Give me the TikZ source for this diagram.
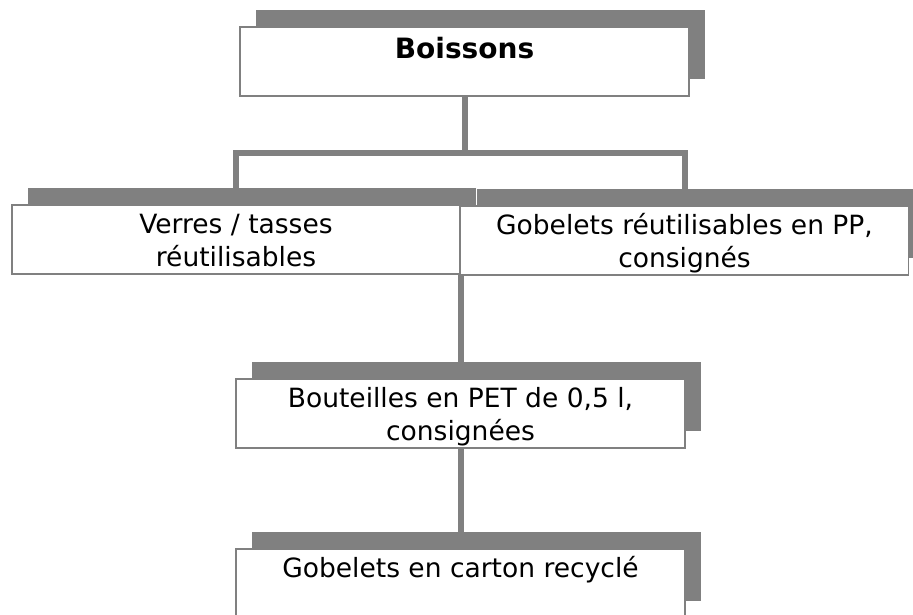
\documentclass[tikz,border=0pt]{standalone}
\usepackage{fontspec}
\setmainfont{DejaVu Sans}
\usetikzlibrary{shadows, backgrounds}

\begin{document}
\begin{tikzpicture}[
  x=1pt, y=-1pt,
  box/.style={rectangle, draw=gray, line width=1.2pt, fill=white, inner sep=0pt,
    minimum width=449pt, minimum height=69pt, align=center,
    text height=28pt, text depth=41pt,
    font=\fontsize{26.5}{33}\selectfont,
    general shadow={fill=gray, shadow xshift=16pt, shadow yshift=17pt}},
  twoline/.style={text height=61pt, text depth=8pt},
  link/.style={draw=gray, line width=6pt}
]
\useasboundingbox (0,0) rectangle (913,614);

% Top
\node[box, text height=31pt, text depth=38pt, font=\fontsize{28}{33}\selectfont\bfseries] (boissons) at (464.5,61.5) {Boissons};

% Reusable
\node[box, twoline, minimum width=448pt] (verres) at (236,239.5) {Verres / tasses\\réutilisables};
\node[box, twoline, minimum width=448pt] (gobelets) at (684.5,240.5) {Gobelets réutilisables en PP,\\consignés};

% Bottles
\node[box, twoline] (pet) at (460.5,413.5) {Bouteilles en PET de 0,5 l,\\consignées};

% Cardboard
\node[box] (carton) at (460.5,583.5) {Gobelets en carton recyclé};

% Connections
\coordinate (fork) at (464.5,153);
\begin{pgfonlayer}{background}
\draw[link] (boissons.south) -- (fork);
\draw[link] (verres.north) |- (fork) -| (gobelets.north);
\draw[link] (pet.north |- verres.south) -- (pet.north);
\draw[link] (pet.south) -- (carton.north);
\end{pgfonlayer}

\end{tikzpicture}
\end{document}
